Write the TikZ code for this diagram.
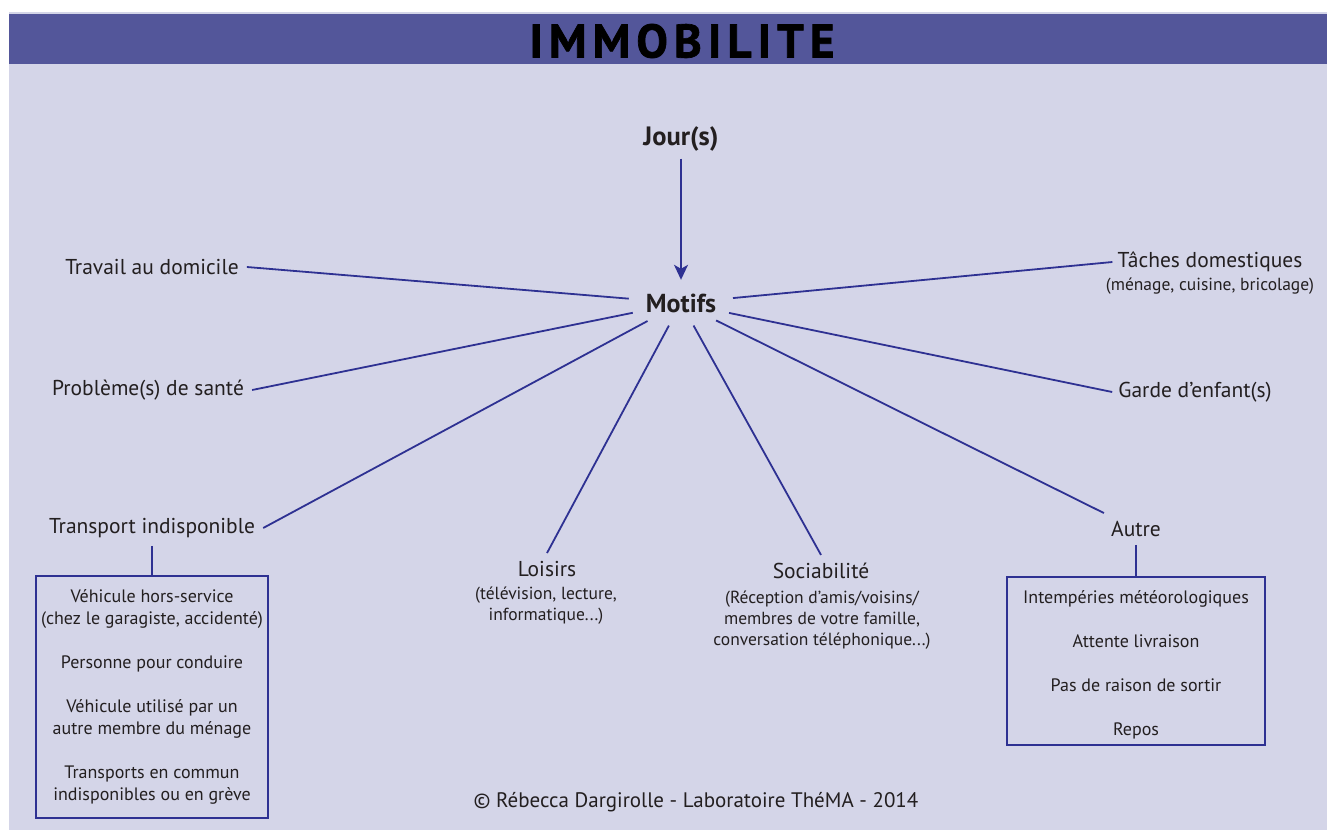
\documentclass[tikz,border=0pt]{standalone}
\usepackage{fontspec}
\setmainfont{PT Sans}
\usetikzlibrary{shapes.geometric}
\usetikzlibrary{positioning}
\usetikzlibrary{arrows.meta}
\usepackage{xcolor}
\definecolor{bandblue}{HTML}{53569A}
\definecolor{paleblue}{HTML}{D4D5E8}
\definecolor{linkblue}{HTML}{2E3192}
\definecolor{inkblack}{HTML}{231F20}

\begin{document}
\begin{tikzpicture}[x=1pt,y=-1pt,
    motif/.style={text=inkblack, font=\fontsize{21.5}{25}\selectfont, inner sep=8pt},
    detail/.style={text=inkblack, font=\fontsize{17.5}{21}\selectfont, align=center, inner sep=0pt},
    link/.style={draw=linkblue, line width=1.8pt},
    listbox/.style={draw=linkblue, line width=1.8pt, text=inkblack, align=center,
        font=\fontsize{18}{22}\selectfont, inner sep=0pt}]
            % Background and title band
            \useasboundingbox (0,0) rectangle (1327,830);
            \fill[white] (0,0) rectangle (1327,830);
            \fill[paleblue] (9,12) rectangle (1327,830);
            \fill[bandblue] (9,14) rectangle (1327,64);
            \node[text=black, font=\fontsize{47}{47}\bfseries\addfontfeature{LetterSpace=13,FakeBold=1.5}] (title) at (682,41) {IMMOBILITE};

            % Centre of the diagram
            \node[text=inkblack, font=\fontsize{26.5}{30}\bfseries, inner sep=7pt] (jour) at (681,139) {Jour(s)};
            \node[ellipse, text=inkblack, font=\fontsize{26}{30}\bfseries, minimum width=106pt, minimum height=46pt, inner sep=0pt] (motifs) at (681,303) {Motifs};
            \draw[link, -{Stealth[length=15pt, width=14pt, inset=4pt]}] (jour) -- (motifs);

            % Motives around the centre
            \node[motif] (travail) at (152,267) {Travail au domicile};
            \node[motif] (sante) at (148,390) {Problème(s) de santé};
            \node[motif] (transport) at (152,528) {Transport indisponible};
            \node[motif] (loisirs) at (547,569) {Loisirs};
            \node[detail] (loisirsdet) at (546,606) {(télévision, lecture,\\informatique...)};
            \node[motif] (sociab) at (821,571) {Sociabilité};
            \node[detail] (sociabdet) at (822,620) {(Réception d’amis/voisins/\\membres de votre famille,\\conversation téléphonique...)};
            \node[motif] (autre) at (1136,529) {Autre};
            \node[motif, inner sep=5pt] (taches) at (1210,262) {Tâches domestiques};
            \node[detail] (tachesdet) at (1210,286) {(ménage, cuisine, bricolage)};
            \node[motif, inner sep=6pt] (garde) at (1195,392) {Garde d’enfant(s)};

            \draw[link] (travail.east) -- (motifs);
            \draw[link] (sante.east) -- (motifs);
            \draw[link] (transport.east) -- (motifs);
            \draw[link] (loisirs.north) -- (motifs);
            \draw[link] (sociab.north) -- (motifs);
            \draw[link] (autre) -- (motifs);
            \draw[link] (taches.west) -- (motifs);
            \draw[link] (garde.west) -- (motifs);

            % Lists under Transport and Autre
            \node[listbox, minimum width=232pt, minimum height=242pt] (transbox) at (152,697)
                {Véhicule hors-service\\(chez le garagiste, accidenté)\\[22pt]
                 Personne pour conduire\\[22pt]
                 Véhicule utilisé par un\\autre membre du ménage\\[22pt]
                 Transports en commun\\indisponibles ou en grève};
            \node[listbox, minimum width=258pt, minimum height=168pt] (autrebox) at (1136,661)
                {\rule{0pt}{21pt}Intempéries météorologiques\\[22pt]
                 Attente livraison\\[22pt]
                 Pas de raison de sortir\\[22pt]
                 Repos};
            \draw[link] (transport.south) -- (transbox.north);
            \draw[link] (autre.south) -- (autrebox.north);

            \node[motif, font=\fontsize{21}{25}\selectfont] (credit) at (696,802) {© Rébecca Dargirolle - Laboratoire ThéMA - 2014};
\end{tikzpicture}
\end{document}
